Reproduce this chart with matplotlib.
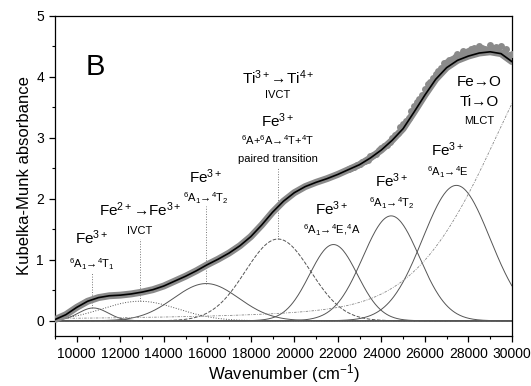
import numpy as np
import matplotlib
matplotlib.use("Agg")
import matplotlib.pyplot as plt

plt.rcParams['font.family'] = ['Liberation Sans', 'DejaVu Sans']
plt.rcParams['mathtext.fontset'] = 'custom'
plt.rcParams['mathtext.rm'] = 'Liberation Sans'
plt.rcParams['mathtext.it'] = 'Liberation Sans:italic'

# curva ajustada (soma)
fit_wn = np.arange(9000, 30001, 500)
fit_val = [0.02, 0.10, 0.22, 0.32, 0.38, 0.41, 0.42, 0.44, 0.47, 0.51,
           0.57, 0.65, 0.73, 0.82, 0.92, 1.01, 1.11, 1.23, 1.38, 1.57,
           1.78, 1.96, 2.10, 2.20, 2.27, 2.33, 2.40, 2.48, 2.56, 2.67,
           2.80, 2.96, 3.15, 3.42, 3.70, 3.96, 4.15, 4.27, 4.34, 4.39,
           4.41, 4.38, 4.25]

# pontos medidos na regiao de maior dispersao
obs_wn = np.arange(22500, 30001, 250)
obs_val = [2.49, 2.52, 2.57, 2.62, 2.70, 2.74, 2.83, 2.88, 3.00, 3.08,
           3.22, 3.33, 3.52, 3.63, 3.80, 3.92, 4.05, 4.14, 4.25, 4.30,
           4.38, 4.42, 4.43, 4.47, 4.50, 4.46, 4.52, 4.49, 4.50, 4.45, 4.38]
obs2_wn = np.arange(22625, 30000, 250)
obs2_val = [2.50, 2.56, 2.60, 2.64, 2.72, 2.80, 2.86, 2.93, 3.05, 3.17,
            3.28, 3.44, 3.58, 3.70, 3.88, 3.98, 4.10, 4.22, 4.28, 4.33,
            4.36, 4.40, 4.45, 4.42, 4.48, 4.44, 4.47, 4.42, 4.40, 4.36]

# componentes gaussianas
peak_center = [10760, 12900, 15950, 19250, 21800, 24450, 27450]
peak_height = [0.21, 0.32, 0.61, 1.34, 1.25, 1.72, 2.22]
peak_sigma = [680, 1750, 1500, 1500, 1100, 1300, 1550]
peak_style = ['-', ':', '-', '--', '-', '-', '-']

# banda MLCT (pseudo-Voigt)
mlct_center = 32000
mlct_width = 3400
mlct_height = 4.44
mlct_eta = 0.4

x = np.linspace(9000, 30000, 600)

fig = plt.figure(figsize=(5.31, 3.86), dpi=100)
ax = fig.add_axes([0.1036, 0.1295, 0.8604, 0.8295])

ax.axhline(0, color='#808080', lw=1.4, zorder=1)

for c, h, s, ls in zip(peak_center, peak_height, peak_sigma, peak_style):
    y = h * np.exp(-(x - c) ** 2 / (2 * s ** 2))
    ax.plot(x, y, ls, color='#555555', lw=0.7, zorder=2)

g = np.exp(-(x - mlct_center) ** 2 / (2 * mlct_width ** 2))
lz = 1 / (1 + ((x - mlct_center) / mlct_width) ** 2)
ax.plot(x, mlct_height * ((1 - mlct_eta) * g + mlct_eta * lz), '-.',
        color='#888888', lw=0.6, dashes=(3, 1.5, 1, 1.5), zorder=2)

# dados medidos + ajuste
ax.plot(fit_wn, fit_val, color='#8a8a8a', lw=5, solid_capstyle='round', zorder=3)
ax.plot(obs_wn, obs_val, 'o', color='#8a8a8a', ms=5, mec='none', zorder=3)
ax.plot(obs2_wn, obs2_val, 'o', color='#8a8a8a', ms=5, mec='none', zorder=3)
ax.plot(fit_wn, fit_val, color='black', lw=1.2, zorder=4)

# linhas verticais pontilhadas
vlines = [(10700, 0.21, 0.80), (12900, 0.33, 1.34), (15930, 0.61, 1.88), (19250, 1.34, 2.52)]
for xv, y0, y1 in vlines:
    ax.plot([xv, xv], [y0, y1], ':', color='#777777', lw=0.7, zorder=2)

big = 11
small = 8
ax.text(10840, 4.16, "B", fontsize=21, ha='center', va='center')

ax.text(10700, 1.36, r"Fe$^{3+}$", fontsize=big, ha='center', va='center')
ax.text(10700, 0.93, r"$^6$A$_1$→$^4$T$_1$", fontsize=small, ha='center', va='center')

ax.text(12900, 1.82, r"Fe$^{2+}$→Fe$^{3+}$", fontsize=big, ha='center', va='center')
ax.text(12900, 1.48, "IVCT", fontsize=small, ha='center', va='center')

ax.text(15930, 2.36, r"Fe$^{3+}$", fontsize=big, ha='center', va='center')
ax.text(15930, 2.01, r"$^6$A$_1$→$^4$T$_2$", fontsize=small, ha='center', va='center')

ax.text(19240, 3.98, r"Ti$^{3+}$→Ti$^{4+}$", fontsize=big, ha='center', va='center')
ax.text(19240, 3.70, "IVCT", fontsize=small, ha='center', va='center')
ax.text(19240, 3.28, r"Fe$^{3+}$", fontsize=big, ha='center', va='center')
ax.text(19240, 2.96, r"$^6$A+$^6$A→$^4$T+$^4$T", fontsize=small, ha='center', va='center')
ax.text(19240, 2.66, "paired transition", fontsize=small, ha='center', va='center')

ax.text(21720, 1.84, r"Fe$^{3+}$", fontsize=big, ha='center', va='center')
ax.text(21720, 1.48, r"$^6$A$_1$→$^4$E,$^4$A", fontsize=small, ha='center', va='center')

ax.text(24470, 2.29, r"Fe$^{3+}$", fontsize=big, ha='center', va='center')
ax.text(24470, 1.92, r"$^6$A$_1$→$^4$T$_2$", fontsize=small, ha='center', va='center')

ax.text(27040, 2.80, r"Fe$^{3+}$", fontsize=big, ha='center', va='center')
ax.text(27040, 2.44, r"$^6$A$_1$→$^4$E", fontsize=small, ha='center', va='center')

ax.text(28510, 3.92, "Fe→O", fontsize=big, ha='center', va='center')
ax.text(28510, 3.59, "Ti→O", fontsize=big, ha='center', va='center')
ax.text(28510, 3.28, "MLCT", fontsize=small, ha='center', va='center')

ax.set_xlim(9000, 30000)
ax.set_ylim(-0.25, 5)
ax.set_xticks(np.arange(10000, 30001, 2000))
ax.set_xticks(np.arange(9000, 30001, 1000), minor=True)
ax.set_yticks(np.arange(0, 6, 1))
ax.set_yticks(np.arange(0, 5.01, 0.5), minor=True)
ax.tick_params(which='major', direction='out', length=4.5, width=0.9, labelsize=10)
ax.tick_params(which='minor', direction='out', length=2.5, width=0.8)
for sp in ax.spines.values():
    sp.set_linewidth(0.9)

ax.set_xlabel(r"Wavenumber (cm$^{-1}$)", fontsize=12, labelpad=1)
ax.set_ylabel("Kubelka-Munk absorbance", fontsize=12, labelpad=3)

fig.savefig("out.png", dpi=100)
